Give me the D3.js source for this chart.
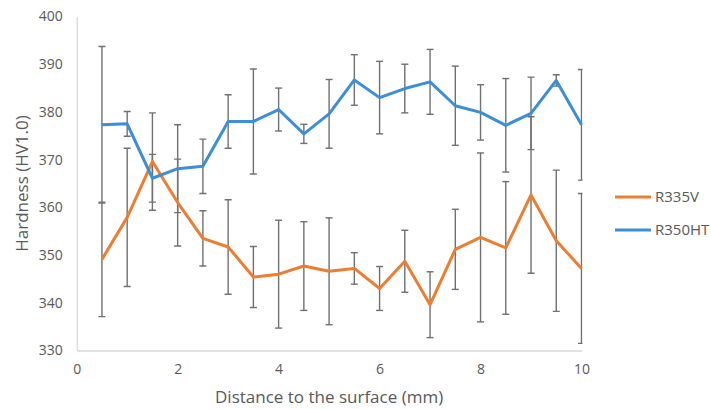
<!DOCTYPE html>
<html>
<head>
  <meta charset="utf-8">
  <title>Hardness</title>
  <style>
    body { margin: 0; background: #fff; }
    text { font-family: "Open Sans", sans-serif; fill: #595959; }
  </style>
</head>
<body>
  <svg></svg>
  <script src="https://cdnjs.cloudflare.com/ajax/libs/d3/7.8.5/d3.min.js"></script>
  <script>
    // values
    var distance = [0.5, 1, 1.5, 2, 2.5, 3, 3.5, 4, 4.5, 5, 5.5, 6, 6.5, 7, 7.5, 8, 8.5, 9, 9.5, 10];
    var r335v = [349.1, 357.9, 369.6, 361.0, 353.5, 351.7, 345.4, 346.0, 347.7, 346.6, 347.2, 343.0, 348.7, 339.6, 351.2, 353.7, 351.5, 362.6, 353.0, 347.2];
    var r335vErr = [12.0, 14.5, 10.2, 9.1, 5.8, 9.9, 6.4, 11.3, 9.3, 11.2, 3.3, 4.6, 6.5, 6.9, 8.4, 17.7, 13.9, 16.4, 14.8, 15.7];
    var r350ht = [377.3, 377.5, 366.1, 368.1, 368.6, 378.0, 378.0, 380.5, 375.4, 379.6, 386.7, 383.0, 384.9, 386.3, 381.3, 379.9, 377.2, 379.7, 386.6, 377.3];
    var r350htErr = [16.4, 2.6, 5.0, 9.2, 5.7, 5.6, 11.0, 4.5, 2.0, 7.2, 5.3, 7.6, 5.1, 6.8, 8.3, 5.8, 9.8, 7.6, 1.2, 11.6];
    var xTicks = [0, 2, 4, 6, 8, 10];
    var yTicks = [330, 340, 350, 360, 370, 380, 390, 400];

    var width = 711, height = 409;
    var mLeft = 76.7, mRight = 581.5, mTop = 16.5, mBottom = 350.5;

    var svg = d3.select("svg").attr("width", width).attr("height", height);

    var x = d3.scaleLinear().domain([0, 10]).range([mLeft, mRight]);
    var y = d3.scaleLinear().domain([330, 400]).range([mBottom, mTop]);

    // caps at x=10 are cut at the plot edge, like the original
    svg.append("clipPath").attr("id", "plot")
      .append("rect").attr("x", mLeft).attr("y", 0).attr("width", mRight - mLeft + 1).attr("height", height);

    // axes, no tick marks, light grey lines
    var xAxis = svg.append("g").attr("transform", "translate(0," + mBottom + ")")
      .call(d3.axisBottom(x).tickValues(xTicks).tickSize(0).tickPadding(14));
    var yAxis = svg.append("g").attr("transform", "translate(" + mLeft + ",0)")
      .call(d3.axisLeft(y).tickValues(yTicks).tickSize(0).tickPadding(14));
    [xAxis, yAxis].forEach(function (a) {
      a.select(".domain").attr("stroke", "#d9d9d9").attr("stroke-width", 1.3);
      a.selectAll("text").style("font-family", "Open Sans").attr("font-size", 14).attr("fill", "#595959");
    });

    svg.append("text").attr("x", (mLeft + mRight) / 2).attr("y", 403)
      .attr("text-anchor", "middle").attr("font-size", 17).text("Distance to the surface (mm)");
    svg.append("text").attr("transform", "translate(28," + (mTop + mBottom) / 2 + ") rotate(-90)")
      .attr("text-anchor", "middle").attr("font-size", 17).text("Hardness (HV1.0)");

    var series = [
      { name: "R335V", values: r335v, err: r335vErr, color: "#ED7D31" },
      { name: "R350HT", values: r350ht, err: r350htErr, color: "#3C8ED7" }
    ];

    // error bars
    var bars = svg.append("g").attr("clip-path", "url(#plot)")
      .attr("stroke", "#707070").attr("stroke-width", 1.4).attr("fill", "none");
    series.forEach(function (s) {
      distance.forEach(function (d, i) {
        var hi = y(s.values[i] + s.err[i]), lo = y(s.values[i] - s.err[i]), cx = x(d);
        bars.append("line").attr("x1", cx).attr("x2", cx).attr("y1", hi).attr("y2", lo);
        bars.append("line").attr("x1", cx - 3.5).attr("x2", cx + 3.5).attr("y1", hi).attr("y2", hi);
        bars.append("line").attr("x1", cx - 3.5).attr("x2", cx + 3.5).attr("y1", lo).attr("y2", lo);
      });
    });

    var line = d3.line().x(function (d) { return x(d[0]); }).y(function (d) { return y(d[1]); });
    series.forEach(function (s) {
      svg.append("path")
        .datum(distance.map(function (d, i) { return [d, s.values[i]]; }))
        .attr("d", line).attr("fill", "none").attr("stroke", s.color)
        .attr("stroke-width", 3).attr("stroke-linejoin", "round");
    });

    // legend
    var legend = svg.append("g");
    series.forEach(function (s, i) {
      var ly = 197 + i * 33;
      legend.append("line").attr("x1", 615).attr("x2", 651).attr("y1", ly).attr("y2", ly)
        .attr("stroke", s.color).attr("stroke-width", 3);
      legend.append("text").attr("x", 655).attr("y", ly + 5).attr("font-size", 15).text(s.name);
    });
  </script>
</body>
</html>
